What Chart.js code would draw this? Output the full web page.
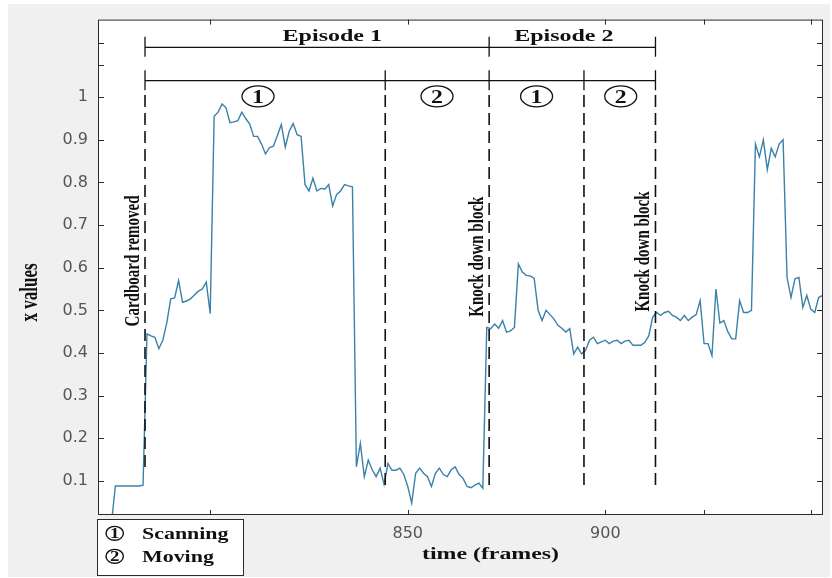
<!DOCTYPE html>
<html>
<head>
<meta charset="utf-8">
<script src="https://cdn.jsdelivr.net/npm/chart.js@4.4.1/dist/chart.umd.min.js"></script>
<style>
  html, body { margin: 0; padding: 0; background: #ffffff; }
  #wrap { width: 832px; height: 578px; }
</style>
</head>
<body>
<div id="wrap"><canvas id="c" width="832" height="578"></canvas></div>
<script>
// ---------------- data ----------------
const frames = [
  775,776,777,778,779,780,781,782,783,784,785,786,787,788,789,790,791,792,793,794,
  795,796,797,798,799,800,801,802,803,804,805,806,807,808,809,810,811,812,813,814,
  815,816,817,818,819,820,821,822,823,824,825,826,827,828,829,830,831,832,833,834,
  835,836,837,838,839,840,841,842,843,844,845,846,847,848,849,850,851,852,853,854,
  855,856,857,858,859,860,861,862,863,864,865,866,867,868,869,870,871,872,873,874,
  875,876,877,878,879,880,881,882,883,884,885,886,887,888,889,890,891,892,893,894,
  895,896,897,898,899,900,901,902,903,904,905,906,907,908,909,910,911,912,913,914,
  915,916,917,918,919,920,921,922,923,924,925,926,927,928,929,930,931,932,933,934,
  935,936,937,938,939,940,941,942,943,944,945,946,947,948,949,950,951,952,953,954,
  955
];
const xValues = [
  0.0,0.088,0.088,0.088,0.088,0.088,0.088,0.088,0.09,0.445,0.44,0.437,0.41,0.43,0.47,0.527,0.529,0.57,0.519,0.522,
  0.527,0.536,0.545,0.55,0.566,0.492,0.955,0.965,0.984,0.975,0.94,0.942,0.945,0.965,0.95,0.937,0.908,0.908,0.89,0.867,
  0.882,0.885,0.91,0.936,0.883,0.92,0.938,0.912,0.908,0.795,0.78,0.81,0.78,0.786,0.784,0.795,0.745,0.772,0.78,0.795,
  0.792,0.79,0.133,0.188,0.11,0.149,0.126,0.11,0.13,0.092,0.141,0.125,0.125,0.13,0.115,0.087,0.048,0.118,0.13,0.118,
  0.11,0.087,0.118,0.13,0.115,0.11,0.126,0.133,0.115,0.106,0.087,0.084,0.09,0.095,0.083,0.46,0.457,0.468,0.458,0.476,
  0.449,0.452,0.46,0.609,0.59,0.582,0.581,0.575,0.5,0.476,0.5,0.49,0.48,0.465,0.458,0.449,0.457,0.398,0.414,0.398,
  0.406,0.43,0.437,0.422,0.426,0.43,0.422,0.428,0.43,0.422,0.428,0.43,0.418,0.418,0.418,0.425,0.44,0.484,0.495,0.488,
  0.495,0.498,0.488,0.484,0.476,0.488,0.476,0.484,0.49,0.523,0.422,0.422,0.394,0.55,0.47,0.476,0.45,0.433,0.433,0.523,
  0.495,0.495,0.5,0.89,0.86,0.9,0.83,0.88,0.86,0.89,0.9,0.577,0.53,0.574,0.577,0.507,0.535,0.503,0.495,0.53,
  0.535
];

const xTickValues = [800, 850, 900, 925, 952];
const xTickLabels = ['', '850', '900', '', ''];
const yTickValues = [0.1, 0.2, 0.3, 0.4, 0.5, 0.6, 0.7, 0.8, 0.9, 1, 1.076, 1.128];
const yTickLabels = ['0.1','0.2','0.3','0.4','0.5','0.6','0.7','0.8','0.9','1','',''];

// event markers (frames) and annotation text
const eventFrames = [783.5, 844.3, 870.6, 894.6, 912.7];
const eventBottoms = [0.121, 0.086, 0.086, 0.084, 0.079];
const eventLabels = ['Cardboard removed', '', 'Knock down block', '', 'Knock down block'];
const eventLabelCenters = [0.616, 0, 0.626, 0, 0.638];
const episodeNames = ['Episode 1', 'Episode 2'];
const episodeCenters = [830.9, 889.5];
const episodeCapIdx = [0, 2, 4];
const phaseNumbers = ['1', '2', '1', '2'];
const phaseCenters = [812.1, 857.4, 882.6, 903.9];
const legendItems = [['1', 'Scanning'], ['2', 'Moving']];
const xTitle = 'time (frames)';
const yTitle = 'x values';

// ---------------- helpers ----------------
const SERIF = '"Liberation Serif", "Times New Roman", serif';
function hText(ctx, text, x, y, sx, size, align) {
  ctx.save();
  ctx.translate(x, y);
  ctx.scale(sx, 1);
  ctx.font = 'bold ' + size + 'px ' + SERIF;
  ctx.textAlign = align || 'center';
  ctx.textBaseline = 'alphabetic';
  ctx.fillStyle = '#111';
  ctx.fillText(text, 0, 0);
  ctx.restore();
}
function vText(ctx, text, x, y, sy, size) {
  ctx.save();
  ctx.translate(x, y);
  ctx.rotate(-Math.PI / 2);
  ctx.scale(1, sy);
  ctx.font = 'bold ' + size + 'px ' + SERIF;
  ctx.textAlign = 'center';
  ctx.textBaseline = 'alphabetic';
  ctx.fillStyle = '#111';
  ctx.fillText(text, 0, 0);
  ctx.restore();
}
function circled(ctx, num, cx, cy, rx, ry, size, sx, lw) {
  ctx.save();
  ctx.fillStyle = '#fff';
  ctx.strokeStyle = '#111';
  ctx.lineWidth = lw || 1.3;
  ctx.beginPath();
  ctx.ellipse(cx, cy, rx, ry, 0, 0, Math.PI * 2);
  ctx.fill();
  ctx.stroke();
  ctx.restore();
  hText(ctx, num, cx, cy + size * 0.676 / 2, sx, size, 'center');
}

const bgPlugin = {
  id: 'bg',
  beforeDraw(chart) {
    const ctx = chart.ctx, a = chart.chartArea;
    ctx.save();
    ctx.fillStyle = '#ffffff';
    ctx.fillRect(0, 0, chart.width, chart.height);
    ctx.fillStyle = '#f0f0f0';
    ctx.fillRect(8, 4, 822, 573);
    ctx.fillStyle = '#ffffff';
    ctx.fillRect(a.left, a.top, a.right - a.left, a.bottom - a.top);
    ctx.restore();
  }
};

const annoPlugin = {
  id: 'anno',
  afterDraw(chart) {
    const ctx = chart.ctx, a = chart.chartArea;
    const xs = chart.scales.x, ys = chart.scales.y;
    const px = v => xs.getPixelForValue(v);
    const py = v => ys.getPixelForValue(v);

    // box + inward ticks
    ctx.save();
    ctx.strokeStyle = '#2a2a2a';
    ctx.lineWidth = 1;
    ctx.strokeRect(a.left + 0.5, a.top + 0.5, a.right - a.left - 1, a.bottom - a.top - 1);
    ctx.beginPath();
    xTickValues.forEach(v => {
      const x = Math.round(px(v)) + 0.5;
      ctx.moveTo(x, a.bottom); ctx.lineTo(x, a.bottom - 5);
      ctx.moveTo(x, a.top); ctx.lineTo(x, a.top + 5);
    });
    yTickValues.forEach(v => {
      const y = Math.round(py(v)) + 0.5;
      ctx.moveTo(a.left, y); ctx.lineTo(a.left + 6, y);
      ctx.moveTo(a.right, y); ctx.lineTo(a.right - 6, y);
    });
    ctx.stroke();
    ctx.restore();

    // brackets
    ctx.save();
    ctx.strokeStyle = '#111';
    ctx.lineWidth = 1.3;
    ctx.beginPath();
    const xL = px(eventFrames[0]), xR = px(eventFrames[eventFrames.length - 1]);
    ctx.moveTo(xL, py(1.117)); ctx.lineTo(xR, py(1.117));
    episodeCapIdx.forEach(i => {
      const x = px(eventFrames[i]);
      ctx.moveTo(x, py(1.142)); ctx.lineTo(x, py(1.095));
    });
    ctx.moveTo(xL, py(1.039)); ctx.lineTo(xR, py(1.039));
    eventFrames.forEach(f => {
      const x = px(f);
      ctx.moveTo(x, py(1.063)); ctx.lineTo(x, py(1.016));
    });
    ctx.stroke();

    // dashed event lines
    ctx.lineWidth = 1.6;
    ctx.setLineDash([12, 6]);
    eventFrames.forEach((f, i) => {
      const x = px(f);
      ctx.beginPath();
      ctx.moveTo(x, py(1.005));
      ctx.lineTo(x, py(eventBottoms[i]));
      ctx.stroke();
    });
    ctx.setLineDash([]);
    ctx.restore();

    // event labels
    eventFrames.forEach((f, i) => {
      if (!eventLabels[i]) return;
      vText(ctx, eventLabels[i], px(f) - 6, py(eventLabelCenters[i]), 1.45, 15);
    });

    // episode labels
    episodeNames.forEach((t, i) => hText(ctx, t, px(episodeCenters[i]), py(1.132), 1.5, 16, 'center'));

    // phase circles
    phaseNumbers.forEach((n, i) => circled(ctx, n, px(phaseCenters[i]), py(1.002), 16, 10.5, 19, 1.25));

    // axis titles
    vText(ctx, yTitle, 36.5, 292.5, 1.5, 17);
    hText(ctx, xTitle, 490.5, 559, 1.49, 16, 'center');

    // legend box
    ctx.save();
    ctx.fillStyle = '#ffffff';
    ctx.fillRect(97, 519, 146, 57);
    ctx.strokeStyle = '#2a2a2a';
    ctx.lineWidth = 1;
    ctx.strokeRect(97.5, 519.5, 146, 56);
    ctx.restore();
    legendItems.forEach((it, i) => {
      const cy = 533.3 + i * 23;
      circled(ctx, it[0], 114.7, cy, 8.7, 6.9, 15, 1.25, 1.4);
      hText(ctx, it[1], 142, cy + 5.2, 1.37, 16, 'left');
    });
  }
};

const tickFont = { family: '"DejaVu Sans", sans-serif', size: 16 };

new Chart(document.getElementById('c'), {
  type: 'line',
  data: {
    datasets: [{
      data: frames.map((f, i) => ({ x: f, y: xValues[i] })),
      borderColor: '#3b80a8',
      borderWidth: 1.4,
      pointRadius: 0,
      tension: 0,
      fill: false
    }]
  },
  options: {
    responsive: false,
    animation: false,
    devicePixelRatio: 1,
    layout: { padding: { left: 0, top: 18, right: 9, bottom: 0 } },
    plugins: { legend: { display: false }, tooltip: { enabled: false } },
    scales: {
      x: {
        type: 'linear',
        min: 771.6,
        max: 955.1,
        grid: { display: false, drawTicks: false },
        border: { display: false },
        ticks: {
          font: tickFont, color: '#555555', padding: 9, autoSkip: false, maxRotation: 0,
          callback: (v) => { const i = xTickValues.indexOf(v); return i >= 0 ? xTickLabels[i] : ''; }
        },
        afterBuildTicks: s => { s.ticks = xTickValues.map(v => ({ value: v })); },
        afterFit: s => { s.height = 63; }
      },
      y: {
        type: 'linear',
        min: 0.02,
        max: 1.182,
        grid: { display: false, drawTicks: false },
        border: { display: false },
        ticks: {
          font: tickFont, color: '#555555', padding: 10, autoSkip: false,
          callback: (v) => { const i = yTickValues.indexOf(v); return i >= 0 ? yTickLabels[i] : ''; }
        },
        afterBuildTicks: s => { s.ticks = yTickValues.map(v => ({ value: v })); },
        afterFit: s => { s.width = 98; }
      }
    }
  },
  plugins: [bgPlugin, annoPlugin]
});
</script>
</body>
</html>
